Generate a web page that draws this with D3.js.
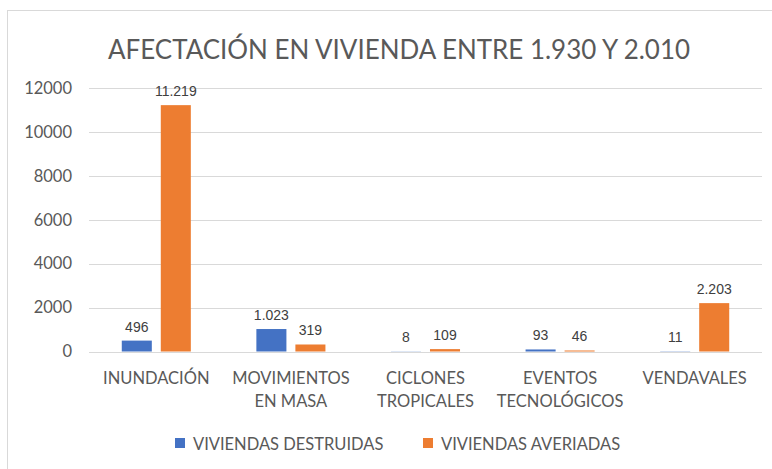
<!DOCTYPE html>
<html><head><meta charset="utf-8">
<script src="https://cdn.jsdelivr.net/npm/d3@7"></script>
<style>body{margin:0;background:#fff;} svg{display:block;}</style>
</head><body>
<svg id="chart" width="772" height="469"></svg>
<script>
const title = "AFECTACIÓN EN VIVIENDA ENTRE 1.930 Y 2.010";
const categories = ["INUNDACIÓN", "MOVIMIENTOS EN MASA", "CICLONES TROPICALES", "EVENTOS TECNOLÓGICOS", "VENDAVALES"];
const categoryLines = [["INUNDACIÓN"], ["MOVIMIENTOS", "EN MASA"], ["CICLONES", "TROPICALES"], ["EVENTOS", "TECNOLÓGICOS"], ["VENDAVALES"]];
const seriesNames = ["VIVIENDAS DESTRUIDAS", "VIVIENDAS AVERIADAS"];
const destruidas = [496, 1023, 8, 93, 11];
const averiadas = [11219, 319, 109, 46, 2203];
const yTicks = [0, 2000, 4000, 6000, 8000, 10000, 12000];
const colors = ["#4472C4", "#ED7D31"];

const svg = d3.select("#chart");
const fontMain = "Lato, 'Open Sans', sans-serif";
const fontLabel = "'Liberation Sans', Arial, sans-serif";

// chart frame
svg.append("rect").attr("x", 7.5).attr("y", 10.5).attr("width", 800).attr("height", 500)
  .attr("fill", "#fff").attr("stroke", "#D9D9D9").attr("stroke-width", 1);

// title
svg.append("text").attr("x", 399).attr("y", 59).attr("text-anchor", "middle")
  .attr("font-family", fontMain).attr("font-size", 26).attr("fill", "#595959")
  .attr("textLength", 582).attr("lengthAdjust", "spacingAndGlyphs")
  .text(title);

const x = d3.scaleBand().domain(categories).range([89, 762]).paddingInner(0).paddingOuter(0);
const xs = d3.scaleBand().domain(seriesNames).range([0, x.bandwidth()]).paddingInner(0.23).paddingOuter(0.84);
const y = d3.scaleLinear().domain([0, 12000]).range([351.5, 88]);

// gridlines
svg.append("g").selectAll("line").data(yTicks).join("line")
  .attr("x1", 89).attr("x2", 762)
  .attr("y1", d => Math.round(y(d)) + 0.5).attr("y2", d => Math.round(y(d)) + 0.5)
  .attr("stroke", "#D9D9D9").attr("stroke-width", 1);

// y axis labels
const yAxis = d3.axisLeft(y).tickValues(yTicks).tickSize(0).tickPadding(0).tickFormat(d3.format("d"));
const gy = svg.append("g").attr("transform", "translate(72,0)").call(yAxis);
gy.select(".domain").remove();
gy.selectAll("text").attr("font-family", fontMain).attr("font-size", 16.5).attr("fill", "#595959");

// x axis labels
const gx = svg.append("g");
categories.forEach((c, i) => {
  const cx = x(c) + x.bandwidth() / 2;
  const t = gx.append("text").attr("text-anchor", "middle").attr("font-family", fontMain)
    .attr("font-size", 16.5).attr("fill", "#595959");
  categoryLines[i].forEach((ln, j) => {
    t.append("tspan").attr("x", cx).attr("y", 384 + j * 23).text(ln);
  });
});

// bars
const series = [destruidas, averiadas];
const fmt = v => d3.format(",")(v).replace(/,/g, ".");
series.forEach((vals, si) => {
  const g = svg.append("g");
  g.selectAll("rect").data(vals).join("rect")
    .attr("x", (d, i) => x(categories[i]) + xs(seriesNames[si]))
    .attr("y", d => y(d))
    .attr("width", xs.bandwidth())
    .attr("height", d => y(0) - y(d))
    .attr("fill", colors[si]);
  g.selectAll("text").data(vals).join("text")
    .attr("x", (d, i) => x(categories[i]) + xs(seriesNames[si]) + xs.bandwidth() / 2)
    .attr("y", d => y(d) - 9)
    .attr("text-anchor", "middle")
    .attr("font-family", fontLabel).attr("font-size", 14).attr("fill", "#404040")
    .text(d => fmt(d));
});

// legend
const legendX = [175, 423];
seriesNames.forEach((s, i) => {
  svg.append("rect").attr("x", legendX[i]).attr("y", 438).attr("width", 10).attr("height", 10).attr("fill", colors[i]);
  svg.append("text").attr("x", legendX[i] + 18).attr("y", 450)
    .attr("font-family", fontMain).attr("font-size", 16.5).attr("fill", "#595959").text(s);
});
</script>
</body></html>
